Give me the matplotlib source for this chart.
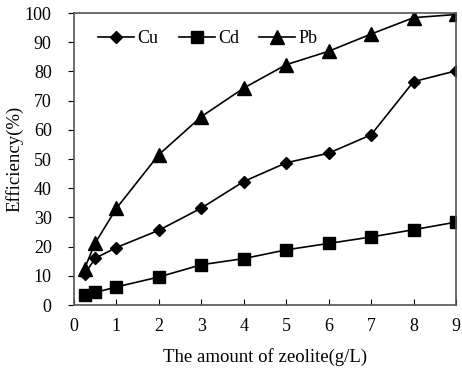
import numpy as np
import matplotlib.pyplot as plt

plt.rcParams['font.family'] = ['Liberation Serif', 'DejaVu Serif']

x = [0.25, 0.5, 1, 2, 3, 4, 5, 6, 7, 8, 9]
cu = [10.5, 16, 19.7, 25.6, 33.2, 42.3, 48.7, 52, 58.3, 76.5, 80.2]
cd = [3.6, 4.3, 6.2, 9.6, 13.8, 15.9, 18.9, 21.1, 23.3, 25.8, 28.4]
pb = [12.5, 21.2, 33.1, 51.5, 64.5, 74.3, 82.3, 86.9, 92.8, 98.4, 99.5]

fig = plt.figure(figsize=(4.62, 3.72), dpi=100)
ax = fig.add_axes([0.160, 0.180, 0.827, 0.785])

ax.plot(x, cu, color='black', lw=1.2, marker='D', ms=6.5, label='Cu')
ax.plot(x, cd, color='black', lw=1.2, marker='s', ms=8.5, label='Cd')
ax.plot(x, pb, color='black', lw=1.2, marker='^', ms=9.5, label='Pb')

ax.set_xlim(0, 9)
ax.set_ylim(0, 100)
ax.set_xticks(range(0, 10))
ax.set_yticks(range(0, 101, 10))
ax.tick_params(axis='x', direction='in', length=4, labelsize=13, pad=9)
ax.tick_params(axis='y', direction='out', length=4, labelsize=13, pad=12)
for s in ax.spines.values():
    s.set_color('#555555')
    s.set_linewidth(1.2)

ax.set_xlabel('The amount of zeolite(g/L)', fontsize=13.5, labelpad=10)
ax.set_ylabel('Efficiency(%)', fontsize=13.5, labelpad=1)

ax.legend(loc='upper left', ncol=3, frameon=False, fontsize=13,
          handlelength=2.0, columnspacing=1.1, handletextpad=0.2,
          bbox_to_anchor=(0.03, 0.985), borderaxespad=0.3)

fig.savefig('out.png', dpi=100)
